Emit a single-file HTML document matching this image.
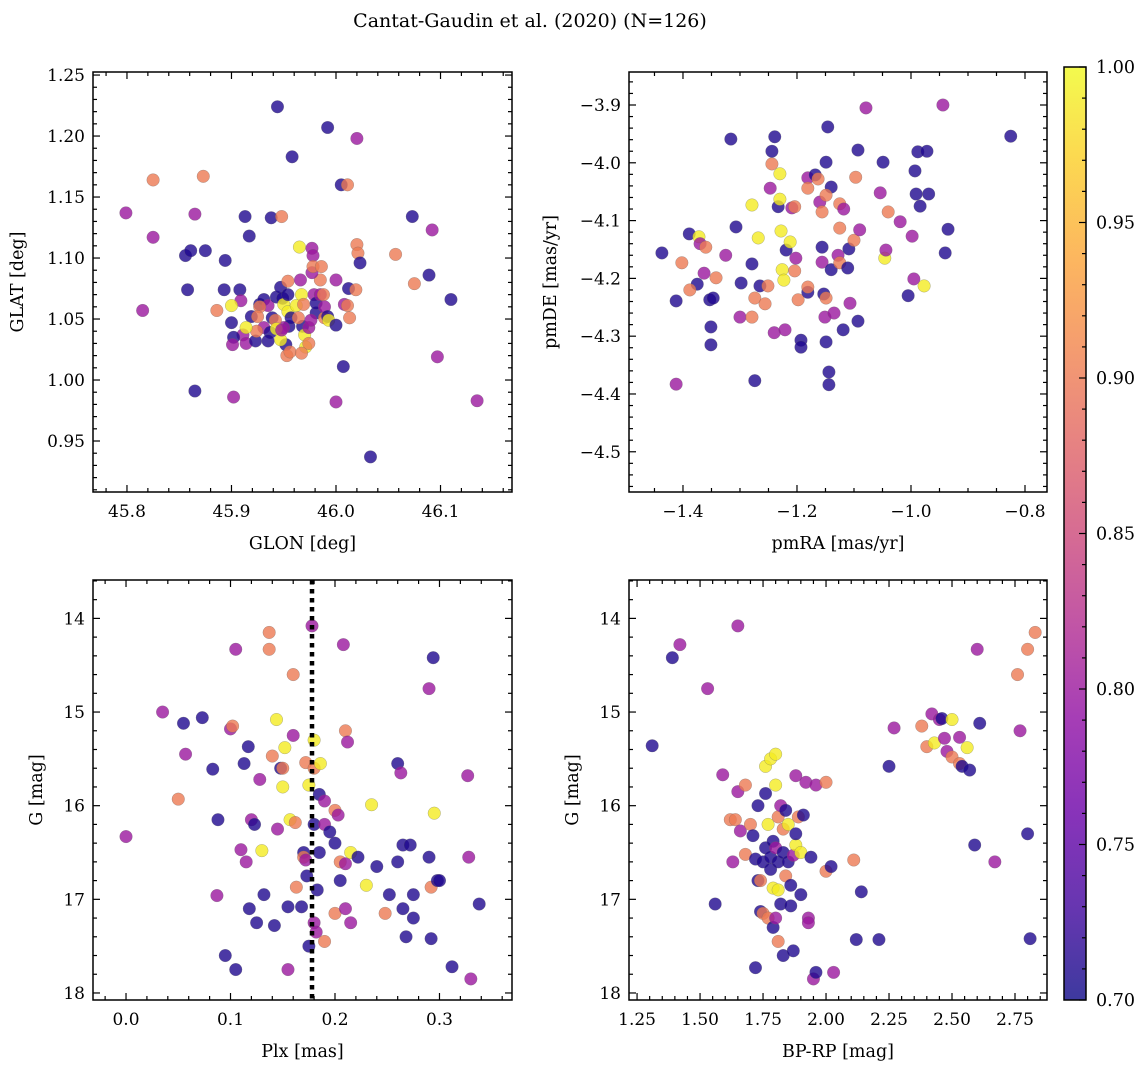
<!DOCTYPE html>
<html><head><meta charset="utf-8">
<style>
html,body{margin:0;padding:0;background:#fff;}
svg{display:block;font-family:"DejaVu Serif","Liberation Serif",serif;}
</style></head>
<body>
<svg id="fig" width="1148" height="1067" viewBox="0 0 1148 1067" xmlns="http://www.w3.org/2000/svg">
<defs>
<linearGradient id="plasma" x1="0" y1="1" x2="0" y2="0">
<stop offset="0" stop-color="#0d0887"/><stop offset="0.1" stop-color="#41049d"/><stop offset="0.2" stop-color="#6a00a8"/><stop offset="0.3" stop-color="#8f0da4"/><stop offset="0.4" stop-color="#b12a90"/><stop offset="0.5" stop-color="#cc4778"/><stop offset="0.6" stop-color="#e16462"/><stop offset="0.7" stop-color="#f2844b"/><stop offset="0.8" stop-color="#fca636"/><stop offset="0.9" stop-color="#fcce25"/><stop offset="1" stop-color="#f0f921"/>
</linearGradient>
</defs>
<text x="530" y="27" font-size="19" text-anchor="middle">Cantat-Gaudin et al. (2020) (N=126)</text>
</svg>
<script>
// ---------- data ----------
const p1Lon=[45.799,45.825,45.825,45.815,45.865,45.873,45.944,45.992,46.020,45.958,46.005,46.011,45.856,45.861,45.875,45.858,45.894,45.913,45.917,45.938,45.948,45.965,45.977,45.978,46.020,46.021,46.023,46.073,46.092,46.057,46.075,46.089,46.110,45.865,45.902,45.931,45.968,46.000,46.007,46.033,46.097,46.135,45.981,45.985,45.886,45.893,45.908,45.909,45.911,45.900,45.902,45.901,45.914,45.919,45.923,45.927,45.931,45.935,45.939,45.937,45.935,45.943,45.947,45.949,45.950,45.954,45.954,45.955,45.957,45.954,45.950,45.952,45.953,45.962,45.964,45.966,45.967,45.969,45.970,45.971,45.974,45.976,45.977,45.978,45.979,45.981,45.985,45.986,45.988,45.989,45.989,45.992,45.993,46.000,46.008,46.012,46.011,46.013,46.000,46.019,45.942,45.943,45.947,45.948,45.927,45.956,45.924,45.974,45.967,45.900,45.914,45.925];
const p1Lat=[1.137,1.164,1.117,1.057,1.136,1.167,1.224,1.207,1.198,1.183,1.160,1.160,1.102,1.106,1.106,1.074,1.098,1.134,1.118,1.133,1.134,1.109,1.108,1.102,1.111,1.104,1.096,1.134,1.123,1.103,1.079,1.086,1.066,0.991,0.986,1.043,1.044,0.982,1.011,0.937,1.019,0.983,1.055,1.082,1.057,1.074,1.074,1.065,1.037,1.047,1.035,1.029,1.030,1.052,1.032,1.062,1.066,1.061,1.051,1.039,1.032,1.068,1.076,1.067,1.062,1.070,1.056,1.044,1.051,1.081,1.043,1.029,1.020,1.061,1.051,1.082,1.070,1.062,1.037,1.027,1.043,1.049,1.088,1.093,1.070,1.063,1.070,1.093,1.070,1.051,1.060,1.052,1.049,1.045,1.062,1.075,1.061,1.051,1.082,1.074,1.049,1.042,1.033,1.041,1.060,1.023,1.040,1.030,1.022,1.061,1.043,1.052];
const p1Prob=[.80,.90,.80,.80,.80,.90,.71,.71,.80,.71,.71,.90,.71,.71,.71,.71,.71,.71,.71,.71,.90,.99,.80,.80,.90,.90,.71,.71,.80,.90,.90,.71,.71,.71,.80,.80,.71,.80,.71,.71,.80,.80,.71,.90,.90,.71,.71,.80,.80,.71,.71,.80,.80,.71,.71,.71,.71,.80,.71,.71,.71,.71,.71,.71,.99,.71,.99,.71,.71,.90,.80,.71,.90,.99,.90,.80,.99,.90,.99,.99,.80,.80,.80,.90,.80,.71,.80,.90,.90,.90,.80,.71,.99,.71,.80,.71,.90,.90,.80,.90,.90,.99,.99,.80,.90,.90,.90,.90,.90,.99,.99,.90];
const p2Ra=[-1.437,-1.412,-1.412,-1.389,-1.375,-1.402,-1.388,-1.372,-1.370,-1.363,-1.360,-1.353,-1.351,-1.347,-1.342,-1.351,-1.325,-1.316,-1.300,-1.298,-1.307,-1.279,-1.279,-1.279,-1.274,-1.274,-1.268,-1.265,-1.256,-1.251,-1.247,-1.244,-1.244,-1.240,-1.239,-1.233,-1.230,-1.230,-1.228,-1.226,-1.223,-1.219,-1.221,-1.212,-1.209,-1.204,-1.202,-1.204,-1.198,-1.193,-1.193,-1.181,-1.181,-1.181,-1.181,-1.168,-1.163,-1.160,-1.156,-1.156,-1.156,-1.153,-1.149,-1.151,-1.149,-1.146,-1.140,-1.149,-1.140,-1.149,-1.144,-1.144,-1.135,-1.128,-1.125,-1.125,-1.125,-1.118,-1.119,-1.111,-1.109,-1.107,-1.100,-1.097,-1.093,-1.093,-1.090,-1.079,-1.054,-1.049,-1.046,-1.044,-1.040,-1.019,-1.005,-0.993,-0.998,-0.995,-0.991,-0.984,-0.977,-0.988,-0.972,-0.944,-0.940,-0.935,-0.825,-0.969];
const p2De=[-4.156,-4.239,-4.383,-4.123,-4.210,-4.173,-4.220,-4.128,-4.140,-4.191,-4.146,-4.237,-4.315,-4.234,-4.199,-4.284,-4.160,-3.959,-4.267,-4.208,-4.111,-4.073,-4.267,-4.175,-4.234,-4.377,-4.130,-4.213,-4.244,-4.213,-4.044,-4.002,-3.980,-4.294,-3.955,-4.076,-4.019,-4.063,-4.118,-4.185,-4.203,-4.151,-4.289,-4.137,-4.078,-4.076,-4.165,-4.187,-4.237,-4.307,-4.319,-4.224,-4.215,-4.026,-4.044,-4.021,-4.028,-4.068,-4.085,-4.146,-4.172,-4.227,-4.234,-4.267,-4.310,-3.938,-4.042,-4.056,-4.185,-3.999,-4.362,-4.384,-4.260,-4.160,-4.173,-4.113,-4.071,-4.080,-4.289,-4.182,-4.149,-4.243,-4.134,-4.025,-3.978,-4.274,-4.116,-3.905,-4.052,-3.999,-4.165,-4.151,-4.085,-4.102,-4.230,-4.014,-4.127,-4.201,-4.054,-4.075,-4.213,-3.981,-3.980,-3.900,-4.156,-4.115,-3.954,-4.054];
const p2Prob=[.71,.71,.80,.71,.71,.90,.90,.99,.80,.80,.90,.71,.71,.71,.90,.71,.80,.71,.80,.71,.71,.99,.90,.71,.90,.71,.99,.71,.90,.90,.80,.90,.71,.80,.71,.71,.99,.99,.99,.99,.99,.71,.80,.99,.80,.90,.80,.90,.90,.71,.71,.71,.90,.80,.90,.71,.90,.80,.90,.71,.80,.71,.90,.80,.71,.71,.71,.90,.71,.71,.71,.71,.80,.80,.90,.90,.90,.80,.71,.71,.71,.80,.90,.90,.71,.71,.80,.80,.80,.71,.99,.80,.90,.80,.71,.71,.80,.80,.71,.71,.99,.71,.71,.80,.71,.71,.71,.71];
const p3Plx=[0.00,0.035,0.055,0.057,0.05,0.073,0.083,0.088,0.087,0.095,0.1,0.102,0.105,0.105,0.11,0.113,0.115,0.117,0.118,0.12,0.123,0.125,0.128,0.13,0.132,0.137,0.137,0.14,0.142,0.144,0.145,0.148,0.15,0.15,0.152,0.155,0.155,0.157,0.16,0.162,0.163,0.16,0.168,0.17,0.17,0.172,0.172,0.173,0.175,0.175,0.178,0.18,0.18,0.18,0.18,0.182,0.183,0.185,0.185,0.186,0.19,0.19,0.19,0.195,0.2,0.2,0.2,0.203,0.205,0.205,0.208,0.21,0.21,0.21,0.212,0.215,0.215,0.222,0.23,0.235,0.24,0.248,0.252,0.26,0.263,0.26,0.265,0.268,0.265,0.272,0.275,0.275,0.29,0.29,0.292,0.294,0.292,0.295,0.298,0.3,0.312,0.327,0.328,0.33,0.338];
const p3G=[16.33,15.0,15.12,15.45,15.93,15.06,15.61,16.15,16.96,17.6,15.18,15.15,14.33,17.75,16.47,15.55,16.6,15.37,17.1,16.15,16.2,17.25,15.72,16.48,16.95,14.15,14.33,15.47,17.28,15.08,16.25,15.6,15.8,15.6,15.38,17.08,17.75,16.15,14.6,16.18,16.87,15.25,17.08,16.5,16.55,16.58,15.54,16.75,15.78,17.5,14.08,15.3,15.6,16.2,17.25,17.35,16.9,15.88,16.5,15.55,17.45,16.2,15.95,16.28,16.05,16.4,17.15,16.1,16.6,16.8,14.28,15.2,16.62,17.1,15.32,16.5,17.25,16.55,16.85,15.99,16.65,17.15,16.95,15.55,15.65,16.6,16.42,17.4,17.1,16.42,17.2,16.95,16.55,14.75,17.42,14.42,16.87,16.08,16.8,16.8,17.72,15.68,16.55,17.85,17.05];
const p3Prob=[.80,.80,.71,.80,.90,.71,.71,.71,.80,.71,.80,.90,.80,.71,.80,.71,.80,.71,.71,.80,.71,.71,.80,.99,.71,.90,.90,.90,.71,.99,.80,.71,.99,.90,.99,.71,.80,.99,.90,.90,.90,.80,.71,.71,.90,.80,.90,.71,.99,.71,.80,.99,.90,.71,.80,.80,.71,.71,.71,.99,.90,.80,.80,.71,.90,.71,.90,.80,.90,.71,.80,.90,.80,.80,.80,.99,.80,.71,.99,.99,.71,.90,.71,.71,.80,.71,.71,.71,.71,.71,.71,.71,.71,.80,.71,.71,.90,.99,.71,.71,.71,.80,.80,.80,.71];
const plxCut=0.178;
const p4Col=[1.31,1.39,1.42,1.53,1.56,1.59,1.62,1.63,1.64,1.65,1.65,1.66,1.68,1.68,1.7,1.71,1.72,1.72,1.73,1.73,1.74,1.74,1.75,1.75,1.76,1.76,1.76,1.77,1.77,1.78,1.78,1.78,1.79,1.79,1.79,1.8,1.8,1.8,1.8,1.81,1.81,1.81,1.81,1.82,1.82,1.83,1.83,1.83,1.84,1.84,1.85,1.85,1.86,1.86,1.87,1.87,1.88,1.88,1.88,1.89,1.9,1.9,1.91,1.92,1.93,1.93,1.94,1.95,1.96,1.96,2.0,2.0,2.02,2.03,2.11,2.12,2.14,2.21,2.25,2.27,2.38,2.4,2.42,2.43,2.45,2.46,2.47,2.48,2.5,2.5,2.53,2.53,2.54,2.56,2.57,2.59,2.6,2.61,2.67,2.76,2.77,2.8,2.8,2.81,2.83];
const p4G=[15.36,14.42,14.28,14.75,17.05,15.67,16.15,16.6,16.15,14.08,15.85,16.27,15.78,16.52,16.2,16.32,16.57,17.73,16.0,16.8,17.13,16.8,16.6,17.15,15.58,15.87,16.45,16.2,17.2,15.5,16.55,16.68,16.38,16.88,17.3,15.45,15.78,16.45,17.2,16.12,16.6,16.9,17.45,17.05,16.0,16.25,16.5,17.6,16.75,16.05,16.2,16.6,16.85,17.07,16.53,17.55,15.68,16.42,16.3,16.12,16.5,16.95,16.1,15.75,17.2,17.25,16.55,17.85,17.78,15.78,15.75,16.7,16.65,17.78,16.58,17.43,16.92,17.43,15.58,15.17,15.15,15.37,15.02,15.33,15.08,15.07,15.28,15.42,15.08,15.48,15.55,15.27,15.58,15.38,15.62,16.42,14.33,15.12,16.6,14.6,15.2,14.33,16.3,17.42,14.15];
const p4Prob=[.71,.71,.80,.80,.71,.80,.90,.80,.90,.80,.80,.80,.90,.90,.90,.71,.71,.71,.71,.71,.71,.90,.71,.90,.99,.71,.71,.99,.90,.99,.71,.71,.71,.99,.71,.99,.99,.80,.80,.90,.71,.99,.90,.71,.80,.90,.71,.71,.90,.71,.99,.71,.71,.71,.80,.71,.80,.99,.71,.90,.99,.71,.71,.80,.80,.80,.71,.80,.71,.80,.90,.90,.71,.80,.90,.71,.71,.71,.71,.80,.90,.90,.80,.99,.80,.71,.80,.80,.99,.90,.90,.80,.71,.99,.71,.71,.80,.71,.80,.90,.80,.90,.71,.71,.90];
const cbarTicks=[0.70,0.75,0.80,0.85,0.90,0.95,1.00];

// ---------- helpers ----------
const NS='http://www.w3.org/2000/svg';
const svg=document.getElementById('fig');
function mk(tag,attrs,parent){const e=document.createElementNS(NS,tag);for(const k in attrs)e.setAttribute(k,attrs[k]);(parent||svg).appendChild(e);return e;}
const stops=[[13,8,135],[65,4,157],[106,0,168],[143,13,164],[177,42,144],[204,71,120],[225,100,98],[242,132,75],[252,166,54],[252,206,37],[240,249,33]];
function plasma(v){let t=Math.max(0,Math.min(1,(v-0.7)/0.3))*10;const i=Math.min(9,Math.floor(t)),f=t-i;const a=stops[i],b=stops[i+1];return 'rgb('+[0,1,2].map(k=>Math.round(a[k]+(b[k]-a[k])*f)).join(',')+')';}

function panel(cfg){
  const {x0,y0,w,h,xmin,xmax,ymin,ymax,invertY,name}=cfg;
  const g=mk('g',{});
  
  
  const sx=v=>x0+(v-xmin)/(xmax-xmin)*w;
  const sy=invertY?(v=>y0+(v-ymin)/(ymax-ymin)*h):(v=>y0+h-(v-ymin)/(ymax-ymin)*h);
  return {g,sx,sy};
}
function axesFrame(p,cfg){
  const {x0,y0,w,h}=cfg;const g=p.g;
  const eps=1e-9;
  const xs=Math.ceil(cfg.xmin/cfg.xminor-eps);
  for(let k=xs;k*cfg.xminor<=cfg.xmax+eps;k++){
    const v=k*cfg.xminor;const X=p.sx(v);
    const major=Math.abs(v/cfg.xmajor-Math.round(v/cfg.xmajor))<1e-6;
    const L=major?7:4;
    mk('line',{x1:X,y1:y0+h,x2:X,y2:y0+h-L,stroke:'#000','stroke-width':1.2},g);
    mk('line',{x1:X,y1:y0,x2:X,y2:y0+L,stroke:'#000','stroke-width':1.2},g);
    if(major){const t=mk('text',{x:X,y:y0+h+25,'font-size':17,'text-anchor':'middle'},g);t.textContent=cfg.xfmt(v);
      
      }
  }
  const ys=Math.ceil(Math.min(cfg.ymin,cfg.ymax)/cfg.yminor-eps);
  const ye=Math.max(cfg.ymin,cfg.ymax);
  for(let k=ys;k*cfg.yminor<=ye+eps;k++){
    const v=k*cfg.yminor;const Y=p.sy(v);
    const major=Math.abs(v/cfg.ymajor-Math.round(v/cfg.ymajor))<1e-6;
    const L=major?7:4;
    mk('line',{x1:x0,y1:Y,x2:x0+L,y2:Y,stroke:'#000','stroke-width':1.2},g);
    mk('line',{x1:x0+w,y1:Y,x2:x0+w-L,y2:Y,stroke:'#000','stroke-width':1.2},g);
    if(major){const t=mk('text',{x:x0-8,y:Y+6,'font-size':17,'text-anchor':'end'},g);t.textContent=cfg.yfmt(v);
      
      }
  }
  const r=mk('rect',{x:x0,y:y0,width:w,height:h,fill:'none',stroke:'#000','stroke-width':1.5},g);
  
  
  const xl=mk('text',{x:x0+w/2,y:y0+h+57,'font-size':17.5,'text-anchor':'middle'},g);xl.textContent=cfg.xlabel;
  
  
  const yl=mk('text',{x:0,y:0,'font-size':17.5,'text-anchor':'middle',transform:'translate('+(cfg.ylabx)+','+(y0+h/2)+') rotate(-90)'},g);yl.textContent=cfg.ylabel;
  
  
}
function scatter(p,xs,ys,cs){
  for(let i=0;i<xs.length;i++){
    const c=mk('circle',{cx:p.sx(xs[i]),cy:p.sy(ys[i]),r:6.3,fill:plasma(cs[i]),'fill-opacity':0.8,stroke:'#666','stroke-opacity':0.5,'stroke-width':0.5},p.g);
    
    
  }
}
const f=(d)=>v=>(Math.abs(v)<1e-9?0:v).toFixed(d).replace('-','\u2212');

const c1={name:'glon-glat-panel',x0:93,y0:72,w:419,h:420,xmin:45.7675,xmax:46.1684,ymin:0.9082,ymax:1.2525,xmajor:0.1,xminor:0.02,ymajor:0.05,yminor:0.01,xfmt:f(1),yfmt:f(2),xlabel:'GLON [deg]',ylabel:'GLAT [deg]',ylabx:23};
const P1=panel(c1);scatter(P1,p1Lon,p1Lat,p1Prob);axesFrame(P1,c1);
const c2={name:'proper-motion-panel',x0:629,y0:72,w:418,h:420,xmin:-1.4947,xmax:-0.7614,ymin:-4.5696,ymax:-3.8429,xmajor:0.2,xminor:0.05,ymajor:0.1,yminor:0.02,xfmt:f(1),yfmt:f(1),xlabel:'pmRA [mas/yr]',ylabel:'pmDE [mas/yr]',ylabx:556};
const P2=panel(c2);scatter(P2,p2Ra,p2De,p2Prob);axesFrame(P2,c2);
const c3={name:'parallax-mag-panel',x0:93,y0:580,w:419,h:420,xmin:-0.0316,xmax:0.3694,ymin:13.59,ymax:18.075,invertY:true,xmajor:0.1,xminor:0.02,ymajor:1,yminor:0.2,xfmt:f(1),yfmt:f(0),xlabel:'Plx [mas]',ylabel:'G [mag]',ylabx:42};
const P3=panel(c3);scatter(P3,p3Plx,p3G,p3Prob);
const cut=mk('line',{x1:P3.sx(plxCut),y1:580,x2:P3.sx(plxCut),y2:1000,stroke:'#000','stroke-width':4.5,'stroke-dasharray':'4.5,4.5'},P3.g);


axesFrame(P3,c3);
const c4={name:'cmd-panel',x0:629,y0:580,w:418,h:420,xmin:1.218,xmax:2.877,ymin:13.59,ymax:18.075,invertY:true,xmajor:0.25,xminor:0.05,ymajor:1,yminor:0.2,xfmt:f(2),yfmt:f(0),xlabel:'BP-RP [mag]',ylabel:'G [mag]',ylabx:578};
const P4=panel(c4);scatter(P4,p4Col,p4G,p4Prob);axesFrame(P4,c4);

const cb=mk('g',{});


const cx0=1064,cy0=67,cw=22,ch=933;
mk('rect',{x:cx0,y:cy0,width:cw,height:ch,fill:'url(#plasma)','fill-opacity':0.8},cb);
for(let k=70;k<=100;k++){
  const v=k/100;const Y=cy0+ch-(v-0.7)/0.3*ch;const major=k%5===0;
  mk('line',{x1:cx0+cw,y1:Y,x2:cx0+cw-(major?7:4),y2:Y,stroke:'#000','stroke-width':1.2},cb);
}
cbarTicks.forEach(v=>{const Y=cy0+ch-(v-0.7)/0.3*ch;const t=mk('text',{x:cx0+cw+10,y:Y+6,'font-size':17.5},cb);t.textContent=v.toFixed(2);
  
  });
mk('rect',{x:cx0,y:cy0,width:cw,height:ch,fill:'none',stroke:'#000','stroke-width':1.5},cb);
</script>
</body></html>
